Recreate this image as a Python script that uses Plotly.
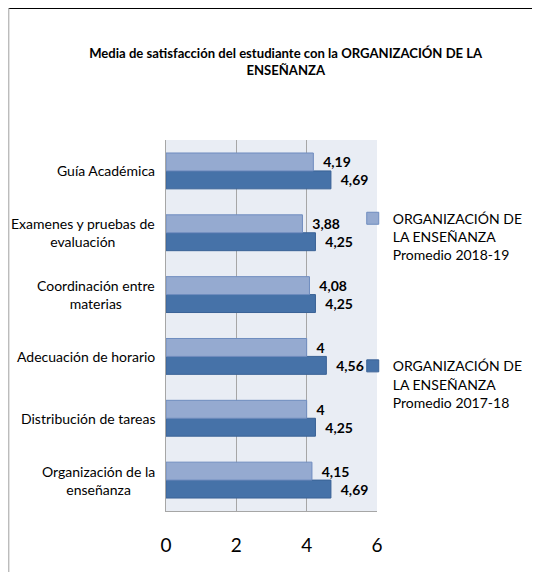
import plotly.graph_objects as go

categorias = ["Guía Académica",
              "Examenes y pruebas de<br>evaluación",
              "Coordinación entre<br>materias",
              "Adecuación de horario",
              "Distribución de tareas",
              "Organización de la<br>enseñanza"]
claves = ["guia", "examenes", "coordinacion", "horario", "tareas", "organizacion"]
promedio_2018_19 = [4.19, 3.88, 4.08, 4.0, 4.0, 4.15]
promedio_2017_18 = [4.69, 4.25, 4.25, 4.56, 4.25, 4.69]
nombre_2018_19 = "ORGANIZACIÓN DE<br>LA ENSEÑANZA<br>Promedio 2018-19"
nombre_2017_18 = "ORGANIZACIÓN DE<br>LA ENSEÑANZA<br>Promedio 2017-18"
ticks_x = [0, 2, 4, 6]

FUENTE = "Lato, sans-serif"


def etiqueta(v):
    return "\u00a0\u00a0" + ("%g" % v).replace(".", ",")


fig = go.Figure()

# la serie 2017-18 va primero para quedar abajo dentro de cada grupo
fig.add_trace(go.Bar(
    y=claves, x=promedio_2017_18, orientation="h", name=nombre_2017_18,
    marker=dict(color="#4672A8", line=dict(color="#3A6296", width=1)),
    text=[etiqueta(v) for v in promedio_2017_18], textposition="outside",
    textfont=dict(family=FUENTE, size=14, color="black", weight="bold"),
    cliponaxis=False, legendgroup="b", legendrank=2,
))
fig.add_trace(go.Bar(
    y=claves, x=promedio_2018_19, orientation="h", name=nombre_2018_19,
    marker=dict(color="#95AAD0", line=dict(color="#6F8CBF", width=1)),
    text=[etiqueta(v) for v in promedio_2018_19], textposition="outside",
    textfont=dict(family=FUENTE, size=14, color="black", weight="bold"),
    cliponaxis=False, legendgroup="a", legendrank=1,
))

# etiquetas de categoría centradas como en el original
for clave, cat in zip(claves, categorias):
    fig.add_annotation(x=0, xref="paper", y=clave, yref="y", text=cat,
                       showarrow=False, xanchor="right", xshift=-9, align="center",
                       font=dict(family=FUENTE, size=14, color="black"))

# la página deja 8px de margen alrededor del gráfico
fig.update_layout(
    width=532, height=564,
    margin=dict(l=158, r=163, t=132, b=61, autoexpand=False),
    paper_bgcolor="white", plot_bgcolor="#E9EDF4",
    font=dict(family=FUENTE, color="black"),
    title=dict(text="<b>Media de satisfacción del estudiante con la ORGANIZACIÓN DE LA<br>ENSEÑANZA</b>",
               x=0.522, xanchor="center", y=0.912, yanchor="middle",
               font=dict(family=FUENTE, size=13.1, color="black")),
    barmode="group", bargap=0.42, bargroupgap=0,
    showlegend=True,
    legend=dict(x=0.885, xanchor="left", y=0.54, yanchor="middle", bgcolor="rgba(0,0,0,0)",
                tracegroupgap=90, valign="top",
                font=dict(family=FUENTE, size=14, color="black"), itemwidth=30),
    shapes=[
        dict(type="line", xref="paper", yref="paper", x0=-0.745, x1=1.8, y0=1.356, y1=1.356,
             line=dict(color="black", width=2)),
        dict(type="line", xref="paper", yref="paper", x0=-0.745, x1=-0.745, y0=1.356, y1=-0.2,
             line=dict(color="#A0A0A0", width=1)),
    ],
)
fig.update_xaxes(range=[0, 6], tickvals=ticks_x, showgrid=True, gridcolor="#A6A6A6",
                 gridwidth=1, zeroline=False, showline=True, linecolor="#A6A6A6",
                 ticks="", ticklabelstandoff=17,
                 tickfont=dict(family=FUENTE, size=19, color="black"))
fig.update_yaxes(categoryorder="array", categoryarray=claves[::-1], showticklabels=False,
                 showgrid=False, showline=True, linecolor="#A6A6A6", ticks="")

fig.write_html("out.html")
